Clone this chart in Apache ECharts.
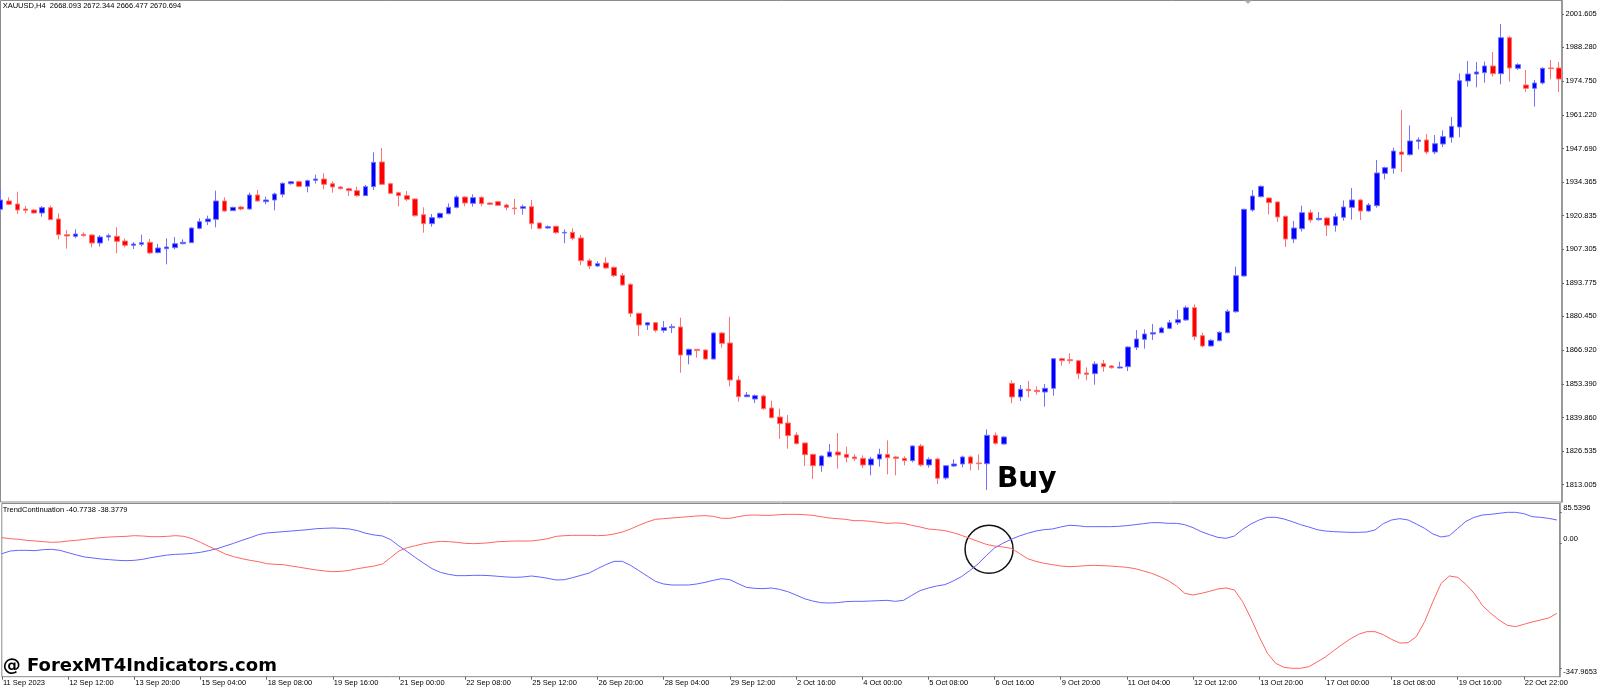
<!DOCTYPE html>
<html><head><meta charset="utf-8">
<script src="https://cdn.jsdelivr.net/npm/echarts@6/dist/echarts.min.js"></script>
<style>html,body{margin:0;padding:0;background:#fff}#c{width:1600px;height:688px}</style>
</head><body><div id="c"></div>
<script>
// ---- data (XAUUSD H4, bar index 0 = 11 Sep 2023 04:00) ----
const tickLabels = ['11 Sep 2023','12 Sep 12:00','13 Sep 20:00','15 Sep 04:00','18 Sep 08:00','19 Sep 16:00','21 Sep 00:00','22 Sep 08:00','25 Sep 12:00','26 Sep 20:00','28 Sep 04:00','29 Sep 12:00','2 Oct 16:00','4 Oct 00:00','5 Oct 08:00','6 Oct 16:00','9 Oct 20:00','11 Oct 04:00','12 Oct 12:00','13 Oct 20:00','17 Oct 00:00','18 Oct 08:00','19 Oct 16:00','22 Oct 22:00'];
const barsPerTick = 8;
const priceTicks = [2001.605,1988.280,1974.750,1961.220,1947.690,1934.365,1920.835,1907.305,1893.775,1880.450,1866.920,1853.390,1839.860,1826.535,1813.005];
const indicatorTicksUpper = [85.5396, 0];
const indicatorTicksLower = [-347.9653];

const openP = [
1923.34,1926.68,1925.48,1923.47,1923.07,1921.87,1924.01,1919.47,1913.19,1912.52,
1913.32,1913.06,1909.85,1912.26,1912.52,1910.65,1908.92,1909.32,1910.12,1905.98,
1907.58,1907.98,1909.58,1909.98,1915.73,1918.40,1919.33,1926.68,1922.81,1924.27,
1923.47,1929.08,1926.41,1927.08,1929.35,1933.62,1934.42,1932.56,1934.96,1935.49,
1933.62,1932.29,1931.62,1930.82,1928.82,1932.42,1942.31,1933.62,1930.02,1928.82,
1927.48,1921.20,1917.60,1920.00,1921.60,1924.14,1928.28,1925.74,1928.15,1925.88,
1926.41,1925.08,1923.87,1923.74,1924.41,1917.87,1915.86,1916.53,1913.86,1914.12,
1911.85,1902.77,1900.64,1901.84,1900.10,1896.89,1893.29,1881.67,1876.99,1877.93,
1874.86,1875.93,1876.19,1864.97,1867.25,1866.98,1863.37,1873.79,1869.78,1854.96,
1848.28,1847.34,1848.55,1843.74,1840.13,1837.73,1832.92,1829.72,1825.17,1820.63,
1824.24,1826.11,1825.17,1824.11,1823.57,1820.90,1823.31,1825.17,1824.11,1823.57,
1822.64,1828.52,1820.90,1823.31,1815.69,1820.50,1821.30,1824.11,1821.70,1821.43,
1832.79,1829.32,1853.62,1848.15,1851.22,1850.82,1850.15,1851.62,1863.50,1863.10,
1862.70,1857.76,1857.50,1861.50,1860.57,1859.77,1860.30,1868.05,1871.25,1873.39,
1873.92,1875.66,1877.93,1879.00,1883.94,1872.72,1868.58,1870.72,1873.92,1882.33,
1896.63,1923.07,1928.41,1927.88,1926.28,1920.53,1911.45,1915.59,1922.00,1919.20,
1919.87,1916.93,1920.13,1924.14,1927.08,1922.67,1924.81,1937.76,1939.77,1946.31,
1945.24,1950.58,1951.12,1946.31,1949.51,1952.19,1956.33,1974.76,1977.56,1978.10,
1980.77,1977.70,1992.12,1979.83,1973.16,1971.82,1973.96,1979.97,1979.97];
const closeP = [
1927.08,1925.34,1923.07,1922.94,1921.87,1924.01,1919.20,1913.19,1912.66,1913.46,
1912.79,1909.85,1912.26,1912.79,1910.52,1908.92,1909.45,1909.98,1905.85,1907.85,
1908.25,1909.58,1910.12,1915.86,1918.40,1919.47,1926.68,1922.67,1924.14,1923.47,
1929.08,1926.68,1927.08,1929.48,1933.76,1934.42,1932.56,1934.83,1935.49,1933.36,
1932.29,1931.62,1930.82,1928.82,1932.42,1942.17,1933.36,1929.75,1928.82,1927.35,
1920.80,1917.60,1920.00,1921.74,1924.14,1928.28,1925.88,1928.02,1925.61,1925.34,
1924.94,1924.14,1923.61,1924.41,1917.60,1915.73,1916.40,1913.99,1914.12,1911.72,
1902.77,1900.64,1901.57,1899.84,1896.76,1893.02,1881.67,1876.99,1877.93,1874.86,
1875.93,1876.33,1864.97,1867.25,1866.85,1863.37,1873.79,1869.65,1854.96,1848.28,
1848.95,1848.68,1843.47,1839.87,1837.46,1832.66,1829.45,1825.04,1820.63,1824.51,
1826.11,1824.91,1823.97,1823.44,1820.90,1823.31,1825.17,1823.84,1823.57,1822.64,
1828.52,1820.90,1823.17,1815.56,1820.63,1821.30,1824.11,1821.57,1821.43,1832.79,
1829.58,1832.12,1848.15,1851.22,1850.69,1850.28,1851.62,1863.50,1862.70,1862.70,
1857.50,1857.23,1861.37,1860.30,1859.90,1860.17,1868.18,1871.39,1873.39,1873.92,
1875.79,1877.93,1879.13,1883.94,1872.32,1868.58,1870.85,1874.05,1882.47,1896.76,
1923.34,1928.68,1932.55,1926.01,1920.26,1911.45,1915.86,1922.00,1919.06,1919.73,
1916.93,1920.40,1924.27,1927.08,1922.67,1925.07,1937.90,1940.03,1946.71,1945.38,
1950.74,1951.12,1946.31,1949.65,1952.45,1956.60,1974.89,1977.56,1978.36,1980.77,
1977.70,1992.12,1979.97,1981.30,1971.82,1973.96,1979.83,1979.70,1975.56];
const lowP = [
1923.07,1925.08,1921.47,1921.74,1921.60,1920.40,1919.07,1911.32,1907.58,1911.72,
1912.39,1908.11,1908.38,1910.79,1905.71,1908.11,1907.45,1908.51,1905.31,1905.71,
1901.30,1907.31,1909.32,1909.85,1915.33,1917.06,1916.13,1922.40,1922.67,1922.94,
1923.07,1926.41,1925.34,1922.94,1928.15,1933.22,1932.16,1930.15,1933.62,1931.35,
1930.02,1931.35,1928.68,1928.41,1928.68,1931.09,1933.09,1929.48,1924.54,1926.68,
1920.40,1913.99,1916.40,1919.60,1921.34,1923.74,1924.54,1924.41,1924.54,1925.08,
1924.81,1922.94,1921.20,1921.20,1915.46,1915.33,1915.59,1913.46,1909.72,1910.92,
1901.04,1899.43,1900.24,1899.57,1896.23,1892.76,1880.20,1872.72,1874.99,1874.06,
1873.92,1873.79,1857.89,1861.24,1863.91,1863.11,1863.24,1867.91,1852.42,1846.28,
1848.01,1845.74,1843.07,1839.60,1831.32,1827.44,1829.18,1820.50,1815.29,1818.23,
1823.97,1819.43,1821.97,1822.50,1819.70,1816.76,1820.23,1817.16,1816.76,1820.76,
1821.97,1820.23,1819.83,1813.29,1815.02,1820.10,1819.96,1818.76,1818.90,1810.90,
1829.05,1829.05,1845.61,1846.54,1848.01,1849.08,1844.27,1848.68,1860.70,1861.50,
1855.36,1854.82,1853.09,1858.30,1859.50,1859.63,1858.56,1866.98,1867.51,1870.99,
1873.66,1875.26,1877.00,1878.60,1870.99,1868.05,1868.32,1870.45,1873.65,1881.93,
1896.36,1922.40,1928.15,1921.34,1918.26,1908.25,1909.85,1914.39,1917.99,1918.80,
1912.65,1914.39,1918.80,1919.20,1919.06,1922.27,1924.00,1935.36,1937.63,1938.30,
1944.84,1947.38,1945.38,1945.38,1948.31,1950.05,1952.19,1972.49,1972.22,1974.09,
1976.50,1973.42,1974.49,1979.17,1970.35,1964.47,1973.42,1975.43,1970.35];
const highP = [
1931.09,1928.15,1930.42,1924.68,1923.47,1924.68,1924.81,1921.74,1915.06,1915.33,
1914.12,1913.46,1913.06,1913.59,1916.13,1911.72,1910.25,1913.19,1911.45,1909.45,
1911.72,1912.26,1911.32,1916.13,1919.73,1920.80,1930.82,1928.15,1924.41,1924.68,
1930.02,1931.09,1928.41,1930.02,1934.16,1934.69,1934.83,1935.23,1937.23,1937.76,
1934.56,1932.56,1932.02,1932.42,1933.09,1946.18,1947.92,1934.02,1930.42,1930.69,
1927.75,1924.14,1921.47,1922.01,1925.74,1928.95,1928.55,1929.35,1928.55,1926.14,
1926.68,1925.61,1927.48,1925.21,1927.08,1918.13,1916.93,1916.80,1915.33,1915.73,
1913.06,1903.57,1902.51,1904.11,1900.37,1897.83,1893.69,1881.94,1878.20,1878.20,
1878.60,1877.40,1879.93,1867.51,1867.38,1867.25,1874.06,1874.06,1880.33,1856.69,
1850.15,1849.21,1849.08,1846.68,1843.47,1840.93,1833.99,1829.98,1825.44,1824.77,
1829.32,1833.72,1828.25,1825.17,1824.77,1824.24,1827.45,1830.78,1824.37,1824.37,
1828.78,1829.32,1823.97,1823.84,1820.90,1823.17,1824.64,1824.64,1825.17,1835.19,
1833.99,1832.52,1854.82,1852.95,1854.56,1852.42,1853.35,1863.77,1863.91,1865.64,
1862.97,1860.03,1862.44,1862.97,1860.97,1862.30,1868.45,1874.99,1875.26,1877.40,
1876.33,1879.00,1883.00,1884.74,1885.28,1873.92,1871.25,1874.45,1883.27,1900.37,
1923.61,1931.08,1932.95,1928.15,1926.54,1920.80,1918.66,1924.81,1923.21,1922.27,
1920.13,1921.74,1926.94,1931.89,1927.35,1925.87,1943.11,1940.43,1948.05,1963.14,
1956.99,1952.19,1953.52,1953.12,1954.99,1960.34,1977.83,1982.77,1982.37,1982.51,
1986.38,1997.60,1992.79,1981.84,1979.17,1975.16,1980.23,1983.17,1982.37];

const trendBlue = [
-29.40,-21.99,-20.14,-20.14,-21.06,-18.29,-17.36,-20.14,-26.62,-33.11,
-38.66,-41.44,-44.22,-46.07,-47.92,-48.85,-47.92,-45.15,-40.52,-36.81,
-33.11,-31.25,-30.33,-28.47,-25.70,-21.06,-15.51,-8.10,-0.69,7.65,
15.06,23.39,28.02,29.88,31.73,33.58,35.43,37.29,40.07,40.99,
41.92,40.99,39.14,34.51,27.10,22.47,19.69,9.50,-8.10,-23.84,
-40.51,-56.26,-71.08,-81.27,-86.82,-90.53,-90.53,-89.60,-89.60,-90.53,
-92.38,-94.23,-95.16,-94.23,-91.45,-94.23,-97.94,-102.57,-101.64,-96.08,
-89.60,-83.12,-71.08,-59.96,-50.70,-50.70,-61.82,-76.63,-91.45,-106.27,
-113.68,-116.46,-116.46,-116.46,-113.68,-109.05,-103.49,-98.86,-101.64,-112.76,
-122.94,-125.72,-126.65,-124.80,-128.50,-134.99,-144.25,-154.44,-160.92,-165.55,
-166.48,-165.55,-162.77,-161.84,-161.84,-160.92,-159.99,-159.07,-161.84,-159.07,
-145.17,-132.21,-124.80,-119.24,-115.53,-105.35,-93.31,-76.63,-58.11,-34.96,
-13.65,-0.69,10.43,19.69,27.10,33.58,37.29,39.14,44.70,49.33,
48.40,45.62,45.62,45.62,45.62,46.55,48.40,51.18,53.96,56.74,
56.74,54.89,54.89,51.18,42.85,31.73,23.40,15.99,13.21,19.69,
38.21,53.03,64.15,71.56,71.56,66.93,59.52,51.18,44.70,37.29,
33.58,31.73,30.80,29.88,29.88,30.80,36.36,53.96,64.15,67.85,
64.15,53.03,40.99,25.25,16.91,20.62,40.99,60.44,71.56,78.04,
79.89,82.67,85.54,85.45,81.74,73.41,71.56,68.78,64.15];
const trendRed = [
15.06,12.28,10.43,7.65,5.80,3.94,2.09,3.02,5.80,7.65,
10.43,13.20,15.06,16.91,17.84,18.77,20.62,19.69,17.84,17.84,
18.77,20.62,18.77,12.28,2.09,-9.02,-19.21,-30.33,-37.74,-43.29,
-47.92,-51.63,-57.19,-59.04,-59.97,-63.67,-67.37,-71.08,-74.78,-77.56,
-79.42,-78.49,-75.71,-71.08,-67.37,-63.67,-58.11,-40.00,-21.99,-12.73,
-7.17,-1.61,2.09,4.87,3.94,2.09,-0.69,-1.61,-0.69,1.17,
3.94,4.87,5.80,5.80,5.80,8.58,12.28,18.76,20.62,21.54,
21.54,21.54,20.62,21.54,25.25,30.80,39.14,49.33,58.59,66.00,
67.85,69.71,71.56,73.41,75.26,76.19,74.34,68.78,68.78,73.41,
77.11,78.04,77.11,77.11,78.97,79.89,79.89,78.97,77.11,73.41,
69.71,67.85,66.00,62.30,62.30,60.44,57.66,54.89,55.81,54.89,
49.33,44.70,39.14,37.29,34.51,28.95,21.54,13.21,4.87,-3.47,
-8.10,-10.87,-14.58,-28.47,-43.29,-50.70,-56.26,-59.96,-63.67,-65.52,
-64.59,-62.74,-61.82,-62.74,-63.67,-65.52,-67.37,-71.08,-77.56,-84.04,
-93.31,-104.42,-119.24,-139.62,-144.25,-139.62,-134.06,-127.58,-124.80,-130.35,
-162.77,-209.08,-260.02,-306.33,-334.12,-345.23,-347.97,-347.97,-343.38,-330.41,
-316.52,-298.91,-282.25,-266.51,-253.54,-246.13,-246.13,-254.47,-267.43,-277.62,
-276.70,-260.02,-218.35,-162.77,-111.83,-91.45,-95.16,-114.61,-139.62,-173.88,
-195.19,-213.71,-228.53,-232.24,-225.75,-219.27,-213.71,-208.16,-195.19];

const headerText = 'XAUUSD,H4  2668.093 2672.344 2666.477 2670.694';
const indicatorText = 'TrendContinuation -40.7738 -38.3779';
const watermarkText = '@ ForexMT4Indicators.com';
const buyText = 'Buy';
const buyAnchor = [120.18, 1815.0];      // bar index, price
const circleAnchor = [119.34, -17.3];    // bar index, indicator value

// ---- build ----
const candles = openP.map((o, i) => [i, o, closeP[i], lowP[i], highP[i]]);
const blueData = trendBlue.map((v, i) => [i, v]);
const redData = trendRed.map((v, i) => [i, v]);
const tickIdx = tickLabels.map((_, k) => k * barsPerTick);

const FONT = "'Liberation Sans', Arial, sans-serif";
const X_MIN = -0.0241, X_MAX = 188.336;
const IND_MIN = -371.25, IND_MAX = 109.99;
const lblStyle = {fontSize: 7.5, fontFamily: FONT, color: '#000'};

const chart = echarts.init(document.getElementById('c'));
chart.setOption({
  animation: false,
  backgroundColor: '#ffffff',
  grid: [
    {left: 0.5, top: 0.5, width: 1561.5, height: 501.5, show: true, borderColor: '#8c8c8c', borderWidth: 1},
    {left: 0.5, top: 503.5, width: 1561.5, height: 173.2, show: true, borderColor: '#8c8c8c', borderWidth: 1}
  ],
  xAxis: [
    {type: 'value', gridIndex: 0, min: X_MIN, max: X_MAX, show: false},
    {type: 'value', gridIndex: 1, min: X_MIN, max: X_MAX, position: 'bottom',
     axisLine: {show: false, onZero: false}, splitLine: {show: false},
     axisTick: {show: true, customValues: tickIdx, length: 3, lineStyle: {color: '#666'}},
     axisLabel: Object.assign({customValues: tickIdx, formatter: v => tickLabels[Math.round(v / barsPerTick)] || '',
                 align: 'left', margin: 2, padding: [0, 0, 0, 1]}, lblStyle)}
  ],
  yAxis: [
    {type: 'value', gridIndex: 0, position: 'right', min: 1806.08, max: 2007.01, splitLine: {show: false},
     axisLine: {show: true, onZero: false, lineStyle: {color: '#8c8c8c', width: 1.5}},
     axisTick: {show: true, customValues: priceTicks, length: 2, lineStyle: {color: '#666'}},
     axisLabel: Object.assign({customValues: priceTicks, formatter: v => v.toFixed(3), margin: 3.5}, lblStyle)},
    {type: 'value', gridIndex: 1, position: 'right', min: IND_MIN, max: IND_MAX, splitLine: {show: false},
     axisLine: {show: true, onZero: false, lineStyle: {color: '#8c8c8c', width: 1.5}},
     axisTick: {show: true, customValues: indicatorTicksUpper, length: 2, lineStyle: {color: '#666'}},
     axisLabel: Object.assign({customValues: indicatorTicksUpper, formatter: v => v === 0 ? '0.00' : v.toFixed(4),
                 margin: 3.5, verticalAlign: 'bottom'}, lblStyle)},
    {type: 'value', gridIndex: 1, position: 'right', min: IND_MIN, max: IND_MAX, splitLine: {show: false},
     axisLine: {show: false, onZero: false},
     axisTick: {show: true, customValues: indicatorTicksLower, length: 2, lineStyle: {color: '#666'}},
     axisLabel: Object.assign({customValues: indicatorTicksLower, formatter: v => v.toFixed(4),
                 margin: 3.5, verticalAlign: 'top'}, lblStyle)}
  ],
  series: [
    {type: 'candlestick', xAxisIndex: 0, yAxisIndex: 0, data: candles, barWidth: 5, clip: false,
     itemStyle: {color: '#0000ff', color0: '#ff0000', borderColor: '#7272ff', borderColor0: '#ff7272', borderWidth: 1}},
    {type: 'line', xAxisIndex: 1, yAxisIndex: 1, data: blueData, symbol: 'none', silent: true,
     lineStyle: {color: '#6464ff', width: 1}},
    {type: 'line', xAxisIndex: 1, yAxisIndex: 1, data: redData, symbol: 'none', silent: true,
     lineStyle: {color: '#ff6464', width: 1}}
  ]
});

const buyPt = chart.convertToPixel({gridIndex: 0}, buyAnchor);
const cirPt = chart.convertToPixel({gridIndex: 1}, circleAnchor);
chart.setOption({
  graphic: [
    {type: 'text', x: 2.7, y: 6, silent: true,
     style: {text: headerText, fontSize: 7.5, fontFamily: FONT, fill: '#000', verticalAlign: 'middle'}},
    {type: 'text', x: 2.7, y: 510, silent: true,
     style: {text: indicatorText, fontSize: 7.5, fontFamily: FONT, fill: '#000', verticalAlign: 'middle'}},
    {type: 'polygon', silent: true, shape: {points: [[1244.5, 0.5], [1251.5, 0.5], [1248, 4]]}, style: {fill: '#b0b0b0'}},
    {type: 'text', x: buyPt[0], y: buyPt[1], silent: true,
     style: {text: buyText, fontSize: 28, fontWeight: 'bold', fontFamily: "'DejaVu Sans', sans-serif", fill: '#000', verticalAlign: 'middle'}},
    {type: 'circle', silent: true, shape: {cx: cirPt[0], cy: cirPt[1], r: 24},
     style: {fill: 'none', stroke: '#111', lineWidth: 1.5}},
    {type: 'text', x: 2.7, y: 666.3, silent: true,
     style: {text: watermarkText, fontSize: 18, fontWeight: 'bold', fontFamily: "'DejaVu Sans', sans-serif", fill: '#000', verticalAlign: 'middle'}}
  ]
});
</script>
</body></html>
